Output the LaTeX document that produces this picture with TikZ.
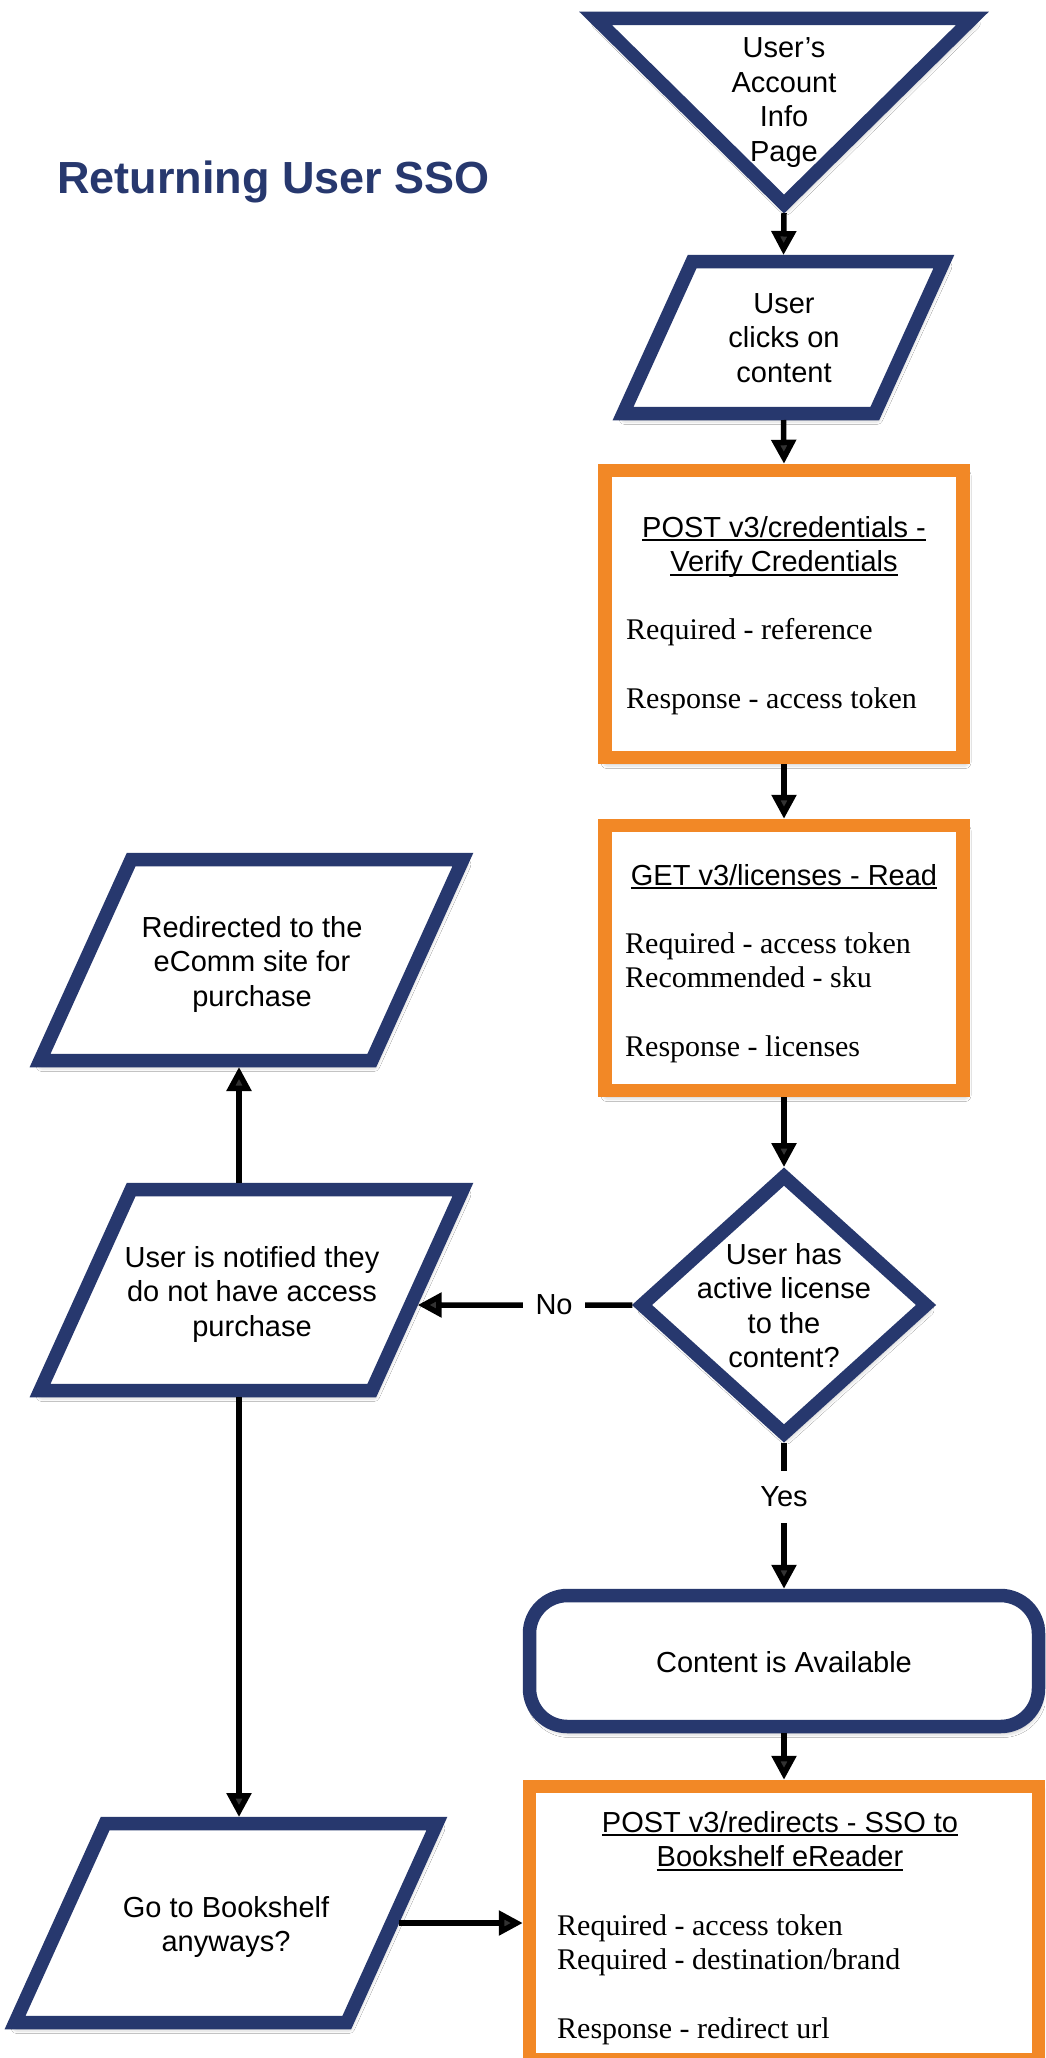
\documentclass[tikz,border=0pt]{standalone}
\usepackage{fontspec}
\setmainfont{Liberation Serif}
\setsansfont{Liberation Sans}
\usetikzlibrary{arrows.meta,calc,shapes.geometric,shadows.blur}
\definecolor{navy}{RGB}{39,56,110}
\definecolor{orng}{RGB}{242,136,38}
\newcommand\myul[1]{\setbox0\hbox{#1}\rlap{\rule[-4pt]{\wd0}{1.8pt}}\box0}
\newcommand\ctab[1]{\begin{tabular}[t]{@{}c@{}}#1\end{tabular}}
\newcommand\ltab[1]{\begin{tabular}[t]{@{}l@{}}#1\end{tabular}}
\newcommand\paragram[6]{% name, xL, xR, yT, yB, slant
  \pgfmathsetmacro\myparr{(#6)/((#5)-(#4))}
  \pgfmathsetmacro\mypard{6.5*sqrt(1+\myparr*\myparr)}
  \draw[navyshape] ({#2+#6+\mypard-6.5*\myparr},{#4+6.5}) -- ({#3-\mypard-6.5*\myparr},{#4+6.5})
     -- ({#3-#6-\mypard+6.5*\myparr},{#5-6.5}) -- ({#2+\mypard+6.5*\myparr},{#5-6.5}) -- cycle;
  \node[bbox, minimum width={#3-#2}, minimum height={#5-#4}] (#1) at ({(#2+#3)/2},{(#4+#5)/2}) {};
  \coordinate (#1-tr) at (#3,#4);
  \coordinate (#1-br) at ({#3-#6},#5);
}
\begin{document}
\begin{tikzpicture}[x=1pt,y=-1pt,
  shapeline/.style={line width=13.5pt, line join=miter, fill=white,
    blur shadow={shadow xshift=2pt, shadow yshift=-5pt, shadow blur radius=6pt, shadow opacity=40}},
  navyshape/.style={shapeline, draw=navy},
  orangebox/.style={shapeline, draw=orng, rectangle, inner sep=0pt},
  bbox/.style={inner sep=0pt, outer sep=0pt, rectangle},
  txt/.style={inner sep=0pt, anchor=base, font=\sffamily\fontsize{29}{34.5}\selectfont},
  body/.style={inner sep=0pt, anchor=base west, font=\rmfamily\fontsize{30}{34.5}\selectfont},
  arr/.style={line width=5.5pt, -{Triangle[length=24pt,width=24pt]}},
  lbl/.style={fill=white, inner xsep=12.5pt, inner ysep=16pt, font=\sffamily\fontsize{29}{34.5}\selectfont},
]
\fill[white] (0,0) rectangle (1045,2058);
\useasboundingbox (0,0) rectangle (1045,2058);

% title
\node[inner sep=0pt, anchor=base west, text=navy, font=\sffamily\bfseries\fontsize{45}{54}\selectfont] (title) at (57,193) {Returning User SSO};

% triangle
\draw[navyshape] (595.7,18.5) -- (972.3,18.5) -- (784,204) -- cycle;
\node[bbox, minimum width=408, minimum height=201] (tri) at (784,112.5) {};
\node[txt] (tritext) at (784,58) {\ctab{User’s\\Account\\Info\\Page}};

% clicks
\paragram{p1}{613}{954}{255}{420}{75}
\node[txt] (p1text) at (784,313) {\ctab{User\\clicks on\\content}};

% box 1
\node[orangebox, minimum width=358, minimum height=287] (b1) at (784,614) {};
\node[txt] (b1title) at (784,537) {\ctab{\myul{POST v3/credentials -}\\\myul{Verify Credentials}}};
\node[body] (b1body) at (626,639) {\ltab{Required - reference\\ \\Response - access token}};

% box 2
\node[orangebox, minimum width=358, minimum height=265] (b2) at (784,958) {};
\node[txt] (b2title) at (784,885) {\myul{GET v3/licenses - Read}};
\node[body] (b2body) at (625,953) {\ltab{Required - access token\\Recommended - sku\\ \\Response - licenses}};

% decision
\node[diamond, draw=navy, shapeline, inner sep=0pt, minimum width=289.6, minimum height=262.4] (dia) at (784,1305) {};
\node[txt] (diatext) at (784,1264) {\ctab{User has\\active license\\to the\\content?}};

% content available
\node[navyshape, rectangle, rounded corners=38pt, inner sep=0pt, minimum width=509, minimum height=131] (avail) at (784,1661) {};
\node[txt] (availtext) at (784,1672) {Content is Available};

% box 3
\node[orangebox, minimum width=509, minimum height=273] (b3) at (784,1923) {};
\node[txt] (b3title) at (780,1832) {\ctab{\myul{POST v3/redirects - SSO to}\\\myul{Bookshelf eReader}}};
\node[body] (b3body) at (557,1935) {\ltab{Required - access token\\Required - destination/brand\\ \\Response - redirect url}};

% left column
\paragram{redir}{30}{473}{853}{1067}{97}
\node[txt] (redirtext) at (252,937) {\ctab{Redirected to the\\eComm site for\\purchase}};
\paragram{notif}{30}{473}{1183}{1397}{97}
\node[txt] (notiftext) at (252,1267) {\ctab{User is notified they\\do not have access\\purchase}};
\paragram{goto}{5}{447}{1817}{2029}{96}
\node[txt] (gototext) at (226,1917) {\ctab{Go to Bookshelf\\anyways?}};

\coordinate (colL) at (239,0);
\coordinate (noend) at ($(notif-tr)!0.57!(notif-br)$);
\coordinate (gostart) at ($(goto-tr)!0.5!(goto-br)$);

% connectors
\draw[arr] (tri.south) -- (p1.north);
\draw[arr] (p1.south) -- (b1.north);
\draw[arr] (b1.south) -- (b2.north);
\draw[arr] (b2.south) -- (dia.north);
\draw[arr] (dia.south) -- node[lbl, pos=0.37] (yes) {Yes} (avail.north);
\draw[arr] (avail.south) -- (b3.north);
\draw[arr] (dia.west) -- node[lbl, pos=0.365] (no) {No} (noend);
\draw[arr] (notif.north -| colL) -- (redir.south -| colL);
\draw[arr] (notif.south -| colL) -- (goto.north -| colL);
\draw[arr] (gostart) -- (b3.west);
\end{tikzpicture}
\end{document}
